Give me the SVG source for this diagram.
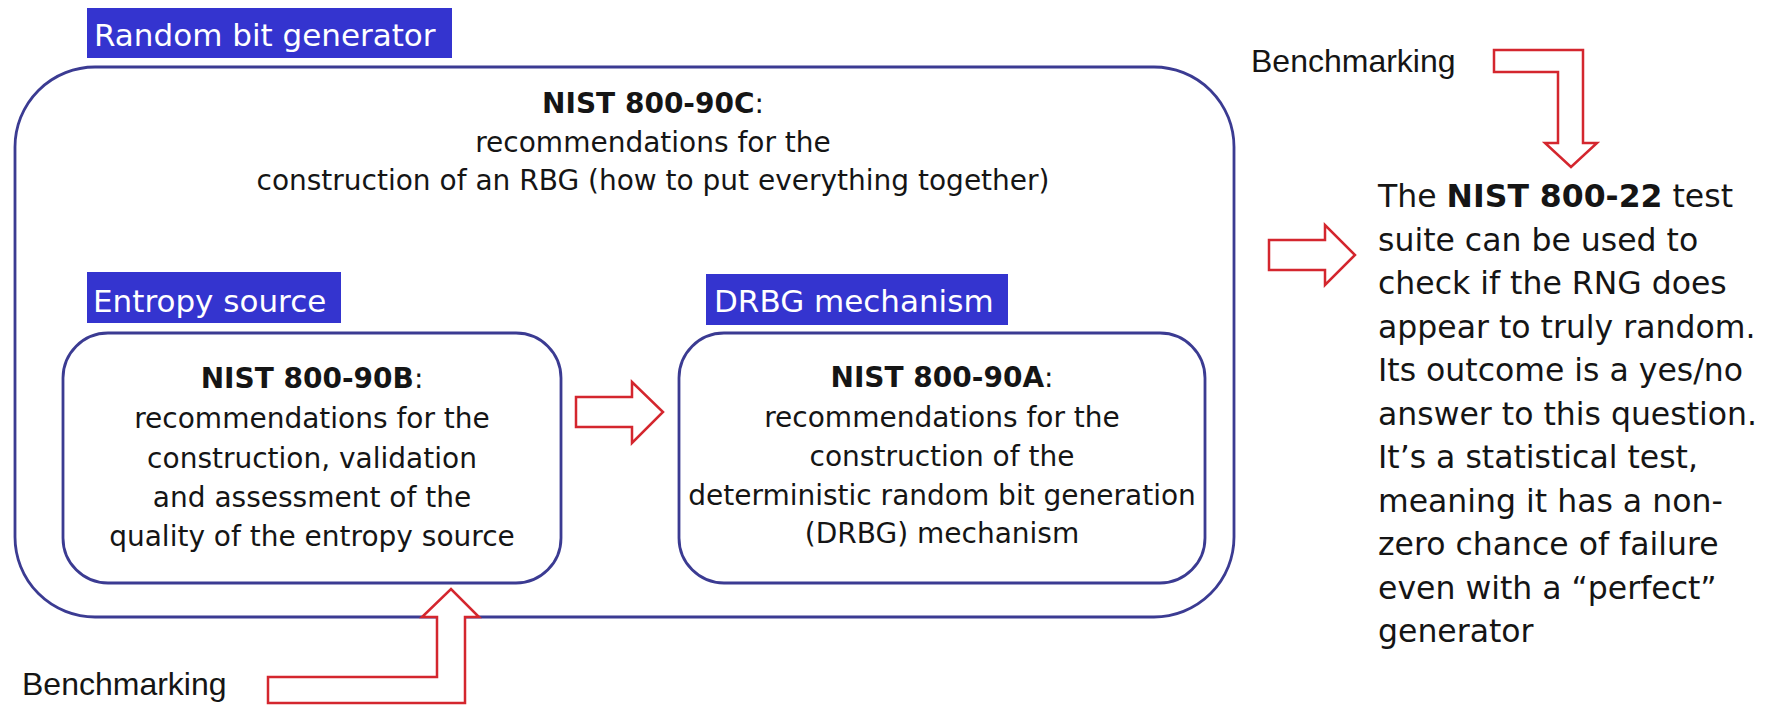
<svg xmlns="http://www.w3.org/2000/svg" width="1768" height="707" viewBox="0 0 1768 707">
  <style>
    .frame { fill: none; stroke: #3b3b92; stroke-width: 2.8; }
    .tag { fill: #3434cf; }
    .tag-text { fill: #ffffff; font-family: "DejaVu Sans", Verdana, sans-serif; font-size: 31px; }
    .body { fill: #151515; font-family: "DejaVu Sans", Verdana, sans-serif; font-size: 28px; text-anchor: middle; }
    .side { fill: #151515; font-family: "DejaVu Sans", Verdana, sans-serif; font-size: 31.5px; }
    .bench { fill: #151515; font-family: "Liberation Sans", Arial, sans-serif; font-size: 32px; }
    .arrow { fill: #ffffff; stroke: #d4262e; stroke-width: 2.5; stroke-linejoin: miter; }
    .b { font-weight: bold; }
  </style>

  <rect width="1768" height="707" fill="#ffffff"/>

  <!-- Random bit generator (outer container) -->
  <g id="rbg">
    <rect class="frame" x="15" y="67" width="1219" height="550" rx="80" ry="80"/>
    <rect class="tag" x="87" y="8" width="365" height="50"/>
    <text class="tag-text" x="94" y="46">Random bit generator</text>
    <text class="body" x="653" y="113"><tspan class="b">NIST 800-90C</tspan>:</text>
    <text class="body" x="653" y="152">recommendations for the</text>
    <text class="body" x="653" y="190">construction of an RBG (how to put everything together)</text>
  </g>

  <!-- Entropy source -->
  <g id="entropy-source">
    <rect class="frame" x="63" y="333" width="498" height="250" rx="45" ry="45"/>
    <rect class="tag" x="87" y="272" width="254" height="51"/>
    <text class="tag-text" x="93" y="312">Entropy source</text>
    <text class="body" x="312" y="388"><tspan class="b">NIST 800-90B</tspan>:</text>
    <text class="body" x="312" y="428">recommendations for the</text>
    <text class="body" x="312" y="468">construction, validation</text>
    <text class="body" x="312" y="507">and assessment of the</text>
    <text class="body" x="312" y="546">quality of the entropy source</text>
  </g>

  <!-- DRBG mechanism -->
  <g id="drbg-mechanism">
    <rect class="frame" x="679" y="333" width="526" height="250" rx="45" ry="45"/>
    <rect class="tag" x="706" y="274" width="302" height="51"/>
    <text class="tag-text" x="714" y="312">DRBG mechanism</text>
    <text class="body" x="942" y="387"><tspan class="b">NIST 800-90A</tspan>:</text>
    <text class="body" x="942" y="427">recommendations for the</text>
    <text class="body" x="942" y="466">construction of the</text>
    <text class="body" x="942" y="505">deterministic random bit generation</text>
    <text class="body" x="942" y="543">(DRBG) mechanism</text>
  </g>

  <!-- NIST 800-22 test suite note -->
  <g id="test-suite">
    <text class="side">
      <tspan x="1378" y="207">The <tspan class="b">NIST 800-22</tspan> test</tspan>
      <tspan x="1378" y="250.5">suite can be used to</tspan>
      <tspan x="1378" y="294">check if the RNG does</tspan>
      <tspan x="1378" y="337.5">appear to truly random.</tspan>
      <tspan x="1378" y="381">Its outcome is a yes/no</tspan>
      <tspan x="1378" y="424.5">answer to this question.</tspan>
      <tspan x="1378" y="468">It’s a statistical test,</tspan>
      <tspan x="1378" y="511.5">meaning it has a non-</tspan>
      <tspan x="1378" y="555">zero chance of failure</tspan>
      <tspan x="1378" y="598.5">even with a “perfect”</tspan>
      <tspan x="1378" y="642">generator</tspan>
    </text>
  </g>

  <!-- Benchmarking inputs -->
  <g id="benchmarking-top">
    <text class="bench" x="1251" y="72">Benchmarking</text>
  </g>
  <g id="benchmarking-bottom">
    <text class="bench" x="22" y="695">Benchmarking</text>
  </g>

  <!-- Hollow block arrows -->
  <g id="connectors">
    <path class="arrow" d="M576,397 L632,397 L632,382 L663,412 L632,443 L632,427 L576,427 Z"/>
    <path class="arrow" d="M1269,240 L1325,240 L1325,225 L1355,255 L1325,285 L1325,270 L1269,270 Z"/>
    <path class="arrow" d="M1494,50 L1583,50 L1583,143 L1597,143 L1571,167 L1545,143 L1558,143 L1558,72 L1494,72 Z"/>
    <path class="arrow" d="M268,677 L437,677 L437,617 L422,617 L451,589 L479,617 L465,617 L465,703 L268,703 Z"/>
  </g>
</svg>
